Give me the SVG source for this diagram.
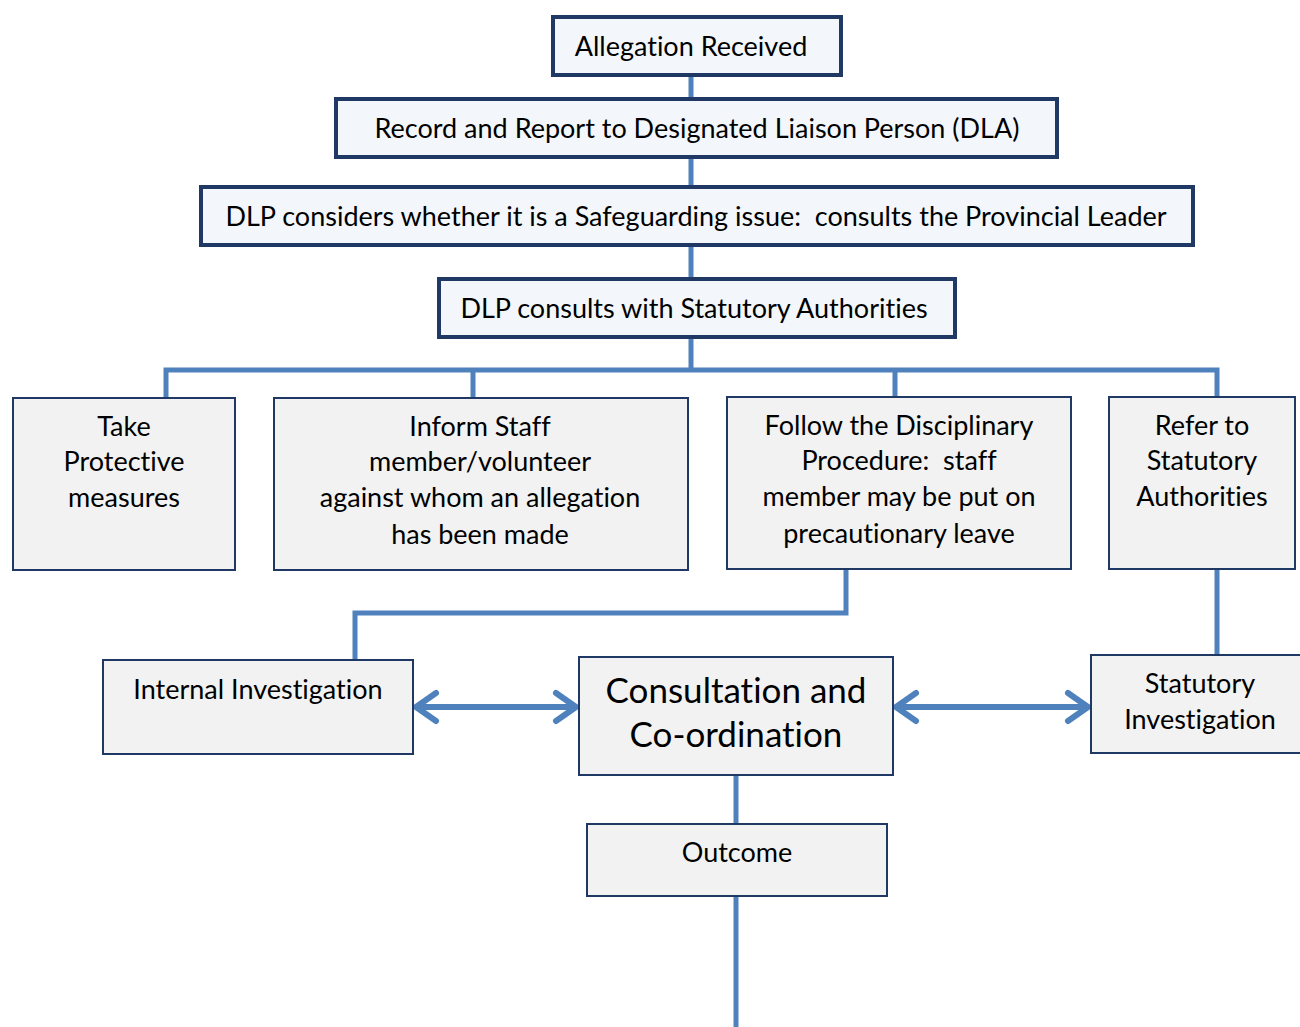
<svg xmlns="http://www.w3.org/2000/svg" width="1300" height="1027" viewBox="0 0 1300 1027">
<defs>
<style>
.top{fill:#f3f7fb;stroke:#1f3864;stroke-width:4}
.box{fill:#f2f2f2;stroke:#1f3864;stroke-width:2}
.con{fill:none;stroke:#4f81bd;stroke-width:5}
.arr{fill:none;stroke:#4f81bd;stroke-width:6;stroke-linecap:round;stroke-linejoin:round}
text{font-family:Lato,"Open Sans",sans-serif;font-size:27px;fill:#000;text-anchor:middle;font-variant-ligatures:none}
.big{font-size:35px}
</style>
</defs>
<rect width="1300" height="1027" fill="#fff"/>
<g id="connectors">
<path class="con" d="M691 76V98M691 158V186M691 246V278M691 338V370M166 398V370H1217V398M473 370V398M895 370V398"/>
<path class="con" d="M846 569V613H355V660"/>
<path class="con" d="M1217 569V655"/>
<path class="con" d="M736 775V824M736 896V1027"/>
<path class="arr" d="M416 707H576M436 693L416 707L436 721M556 693L576 707L556 721"/>
<path class="arr" d="M896 707H1088M916 693L896 707L916 721M1068 693L1088 707L1068 721"/>
</g>
<g id="n1"><rect class="top" x="553" y="17" width="288" height="58"/><text x="691" y="56">Allegation Received</text></g>
<g id="n2"><rect class="top" x="336" y="99" width="721" height="58"/><text x="697" y="138">Record and Report to Designated Liaison Person (DLA)</text></g>
<g id="n3"><rect class="top" x="201" y="187" width="992" height="58"/><text x="696" y="226" xml:space="preserve">DLP considers whether it is a Safeguarding issue:  consults the Provincial Leader</text></g>
<g id="n4"><rect class="top" x="439" y="279" width="516" height="58"/><text x="694" y="318">DLP consults with Statutory Authorities</text></g>
<g id="n5"><rect class="box" x="13" y="398" width="222" height="172"/><text x="124" y="436">Take</text><text x="124" y="471">Protective</text><text x="124" y="507">measures</text></g>
<g id="n6"><rect class="box" x="274" y="398" width="414" height="172"/><text x="480" y="436">Inform Staff</text><text x="480" y="471">member/volunteer</text><text x="480" y="507">against whom an allegation</text><text x="480" y="544">has been made</text></g>
<g id="n7"><rect class="box" x="727" y="397" width="344" height="172"/><text x="899" y="435">Follow the Disciplinary</text><text x="899" y="470" xml:space="preserve">Procedure:  staff</text><text x="899" y="506">member may be put on</text><text x="899" y="543">precautionary leave</text></g>
<g id="n8"><rect class="box" x="1109" y="397" width="186" height="172"/><text x="1202" y="435">Refer to</text><text x="1202" y="470">Statutory</text><text x="1202" y="506">Authorities</text></g>
<g id="n9"><rect class="box" x="103" y="660" width="310" height="94"/><text x="258" y="699">Internal Investigation</text></g>
<g id="n10"><rect class="box" x="579" y="657" width="314" height="118"/><text class="big" x="736" y="703">Consultation and</text><text class="big" x="736" y="747">Co-ordination</text></g>
<g id="n11"><rect class="box" x="1091" y="655" width="210" height="98"/><text x="1200" y="693">Statutory</text><text x="1200" y="729">Investigation</text></g>
<g id="n12"><rect class="box" x="587" y="824" width="300" height="72"/><text x="737" y="862">Outcome</text></g>
</svg>
